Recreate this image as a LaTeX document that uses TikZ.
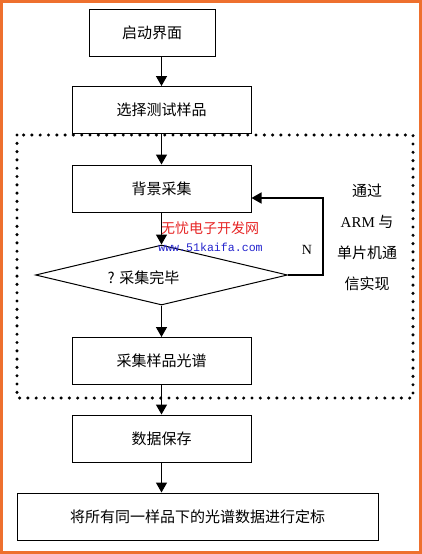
\documentclass[tikz,border=0pt]{standalone}
\usepackage{fontspec}
\setmainfont{Noto Sans CJK SC}
\newfontfamily\latserif{Liberation Serif}
\newfontfamily\latmono{Liberation Mono}
\usetikzlibrary{arrows.meta,shapes.geometric,calc}
\definecolor{frameor}{RGB}{238,112,46}
\definecolor{wmred}{RGB}{230,36,36}
\definecolor{wmblue}{RGB}{36,36,205}
\tikzset{
  proc/.style={draw, line width=1pt, minimum height=47pt, inner sep=0pt,
               font=\fontsize{15}{18}\selectfont},
  dec/.style={draw, diamond, line width=1pt, inner sep=0pt, aspect=4.2,
              minimum width=252pt, minimum height=60pt},
  flow/.style={-{Triangle[length=10pt,width=11pt]}, line width=1.4pt},
  grp/.style={line width=3.4pt, dash pattern=on 0pt off 8.3pt, line cap=round},
  lbl/.style={font=\fontsize{15}{18}\selectfont, inner sep=0pt},
}
\begin{document}
\begin{tikzpicture}[x=1pt, y=-1pt]
  \useasboundingbox (0,0) rectangle (422,554);
  \draw[frameor, line width=3pt] (1.5,1.5) rectangle (420.5,552.5);
  % flow boxes
  \node[proc, minimum width=126pt] (start) at (152,32.5) {启动界面};
  \node[proc, minimum width=179pt] (pick) at (161.5,110) {选择测试样品};
  \node[proc, minimum width=179pt] (bg) at (161.5,188.5) {背景采集};
  \node[dec] (chk) at (161.5,275) {};
  \node[lbl] (chktxt) at ($(chk.center)+(-18,3)$) {? 采集完毕};
  \node[proc, minimum width=179pt] (spec) at (161.5,361) {采集样品光谱};
  \node[proc, minimum width=179pt] (save) at (161.5,438.5) {数据保存};
  \node[proc, minimum width=361pt] (calib) at (197.5,516.5) {将所有同一样品下的光谱数据进行定标};
  % dotted group
  \draw[grp] (17,135) rectangle (413,398);
  \node[lbl, align=center, font=\fontsize{15}{31}\selectfont] (note) at (367,237)
    {通过\\{\latserif ARM} 与\\单片机通\\信实现};
  % watermark
  \node[lbl, text=wmred, font=\fontsize{14}{16}\selectfont] (wm1) at (210,228) {无忧电子开发网};
  \node[lbl, text=wmblue, font=\latmono\fontsize{11.6}{14}\selectfont] (wm2) at (210.5,247) {www.51kaifa.com};
  % connectors
  \draw[flow] (start.south -| pick) -- (pick);
  \draw[flow] (pick) -- (bg);
  \draw[flow] (bg) -- (chk.north);
  \draw[flow] (chk.south) -- (spec);
  \draw[flow] (spec) -- (save);
  \draw[flow] (save) -- (calib.north -| save);
  \coordinate (loop) at (323,198);
  \draw[flow] (chk.east) -| (loop) -- (loop -| bg.east);
  \node[lbl, font=\latserif\fontsize{14}{16}\selectfont] (no) at (307,250) {N};
\end{tikzpicture}
\end{document}
